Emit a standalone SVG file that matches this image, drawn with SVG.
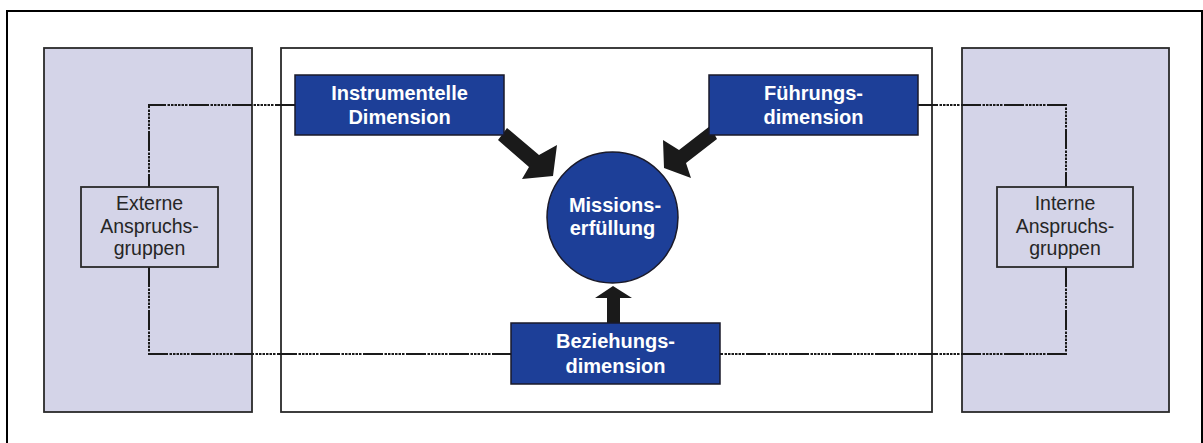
<svg xmlns="http://www.w3.org/2000/svg" width="1203" height="443" viewBox="0 0 1203 443">
<style>
.frame{fill:#fff;stroke:#000;stroke-width:2}
.zone{fill:#d4d4e8;stroke:#2a2a2a;stroke-width:1.8}
.center{fill:#fff;stroke:#2a2a2a;stroke-width:1.8}
.grp{fill:#d4d4e8;stroke:#2a2a2a;stroke-width:1.8}
.dim{fill:#1d3f98;stroke:#1a1a2a;stroke-width:1.5}
.lbl{font-family:"Liberation Sans",Arial,sans-serif;font-size:19.5px;fill:#262626;text-anchor:middle}
.wlbl{font-family:"Liberation Sans",Arial,sans-serif;font-size:20px;font-weight:bold;fill:#fff;text-anchor:middle}
.dash{fill:none;stroke:#1a1a1a;stroke-width:2;stroke-dasharray:20 1.5 2.5 1 2.5 1 2.5 1 2.5 1 2.5 1 2.5 1.5}
.arrow{fill:#1a1a1a}
</style>
<rect x="0" y="0" width="1203" height="443" fill="#fff"/>
<rect class="frame" x="7" y="11" width="1195" height="450"/>
<rect class="zone" x="44" y="48" width="208" height="364"/>
<rect class="center" x="281" y="48" width="651" height="364"/>
<rect class="zone" x="962" y="48" width="207" height="364"/>
<g id="connectors">
<path class="dash" d="M295,105 H149 V187"/>
<path class="dash" d="M149,267 V354 H511"/>
<path class="dash" d="M918,105 H1066 V187"/>
<path class="dash" d="M1066,267 V354 H720"/>
<polygon class="arrow" points="507,128 498,140 529,167 522,179 553,176 557,145 539,155"/>
<polygon class="arrow" points="710,126 717,139 686,163 691,178 664,168 663,140 679,150"/>
<polygon class="arrow" points="607,323 607,298 595,298 613,286 632,298 620,298 620,323"/>
</g>
<g id="externe">
<rect class="grp" x="81" y="187" width="137" height="80"/>
<text class="lbl" x="149.5" y="210">Externe</text>
<text class="lbl" x="149.5" y="233">Anspruchs-</text>
<text class="lbl" x="149.5" y="255">gruppen</text>
</g>
<g id="interne">
<rect class="grp" x="997" y="187" width="136" height="80"/>
<text class="lbl" x="1065" y="210">Interne</text>
<text class="lbl" x="1065" y="233">Anspruchs-</text>
<text class="lbl" x="1065" y="255">gruppen</text>
</g>
<g id="instrumentelle">
<rect class="dim" x="295" y="75" width="209" height="60"/>
<text class="wlbl" x="399.5" y="100">Instrumentelle</text>
<text class="wlbl" x="399.5" y="124">Dimension</text>
</g>
<g id="fuehrung">
<rect class="dim" x="709" y="75" width="209" height="60"/>
<text class="wlbl" x="813.5" y="100">Führungs-</text>
<text class="wlbl" x="813.5" y="124">dimension</text>
</g>
<g id="mission">
<circle class="dim" cx="612.5" cy="217.5" r="65.5"/>
<text class="wlbl" x="615" y="212">Missions-</text>
<text class="wlbl" x="612.5" y="235">erfüllung</text>
</g>
<g id="beziehung">
<rect class="dim" x="511" y="323" width="209" height="61"/>
<text class="wlbl" x="615.5" y="348">Beziehungs-</text>
<text class="wlbl" x="615.5" y="373">dimension</text>
</g>
</svg>
